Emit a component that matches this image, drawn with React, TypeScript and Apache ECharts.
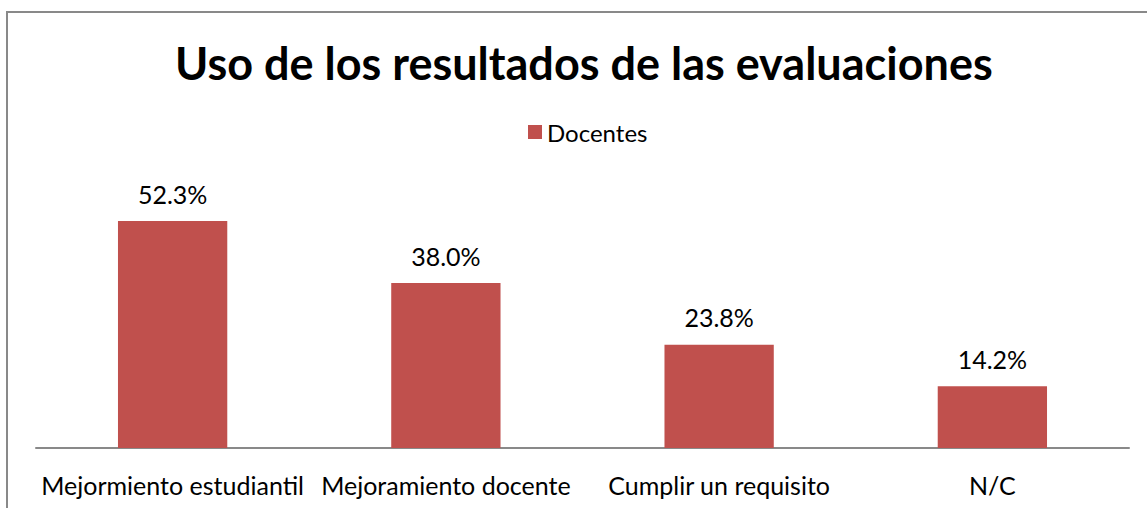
import React, { useEffect, useRef } from "react";
import * as echarts from "echarts";

const categories = ["Mejormiento estudiantil", "Mejoramiento docente", "Cumplir un requisito", "N/C"];
const docentes = [52.3, 38.0, 23.8, 14.2];
const seriesName = "Docentes";
const titleText = "Uso de los resultados de las evaluaciones";

export default function App() {
  const ref = useRef<HTMLDivElement>(null);
  useEffect(() => {
    if (!ref.current) return;
    const chart = echarts.init(ref.current, null, { renderer: "svg" });
    chart.setOption({
      animation: false,
      backgroundColor: "#ffffff",
      textStyle: { fontFamily: "Lato" },
      title: {
        text: titleText,
        left: 170,
        top: 35,
        textStyle: { fontFamily: "Lato", fontWeight: "bold", fontSize: 45, color: "#000000" },
      },
      legend: {
        data: [seriesName],
        left: 523,
        top: 115,
        itemWidth: 14,
        itemHeight: 14,
        itemGap: 6,
        icon: "rect",
        textStyle: { fontFamily: "Lato", fontSize: 24, color: "#000000", padding: [0, 0, 0, 0] },
      },
      grid: { left: 36, right: 18, top: 187.6, bottom: 60, containLabel: false },
      xAxis: {
        type: "category",
        data: categories,
        axisLine: { show: true, lineStyle: { color: "#898989", width: 2 } },
        axisTick: { show: false },
        axisLabel: { fontFamily: "Lato", fontSize: 25, color: "#000000", margin: 24, interval: 0 },
      },
      yAxis: {
        type: "value",
        min: 0,
        max: 60,
        show: false,
        splitLine: { show: false },
      },
      series: [
        {
          name: seriesName,
          type: "bar",
          data: docentes,
          barWidth: "40%",
          itemStyle: { color: "#C0504D" },
          label: {
            show: true,
            position: "top",
            distance: 15,
            fontFamily: "Lato",
            fontSize: 25,
            color: "#000000",
            formatter: (p: any) => p.value.toFixed(1) + "%",
          },
        },
      ],
      graphic: [
        {
          type: "rect",
          shape: { x: 7, y: 12, width: 1200, height: 600 },
          style: { fill: "none", stroke: "#898989", lineWidth: 2 },
          silent: true,
        },
      ],
    });
    return () => chart.dispose();
  }, []);
  return (
    <div
      ref={ref}
      style={{ position: "fixed", left: 0, top: 0, width: 1147, height: 508 }}
    />
  );
}
